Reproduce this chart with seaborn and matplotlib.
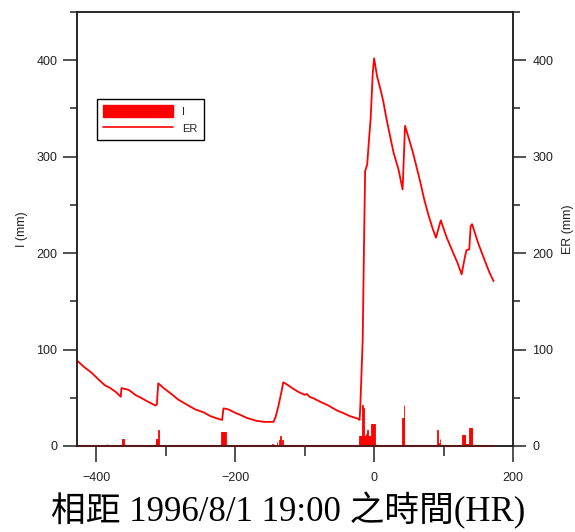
import numpy as np
import pandas as pd
import matplotlib
matplotlib.use("Agg")
import matplotlib.pyplot as plt
import seaborn as sns
from matplotlib.ticker import FixedLocator
from matplotlib.patches import Patch
from matplotlib.lines import Line2D

# ---------------- data ----------------
hours_er = [-427, -418, -407, -397, -388, -380, -372, -365, -364, -358, -353, -344, -336, -326,
            -315, -313, -311, -303, -294, -282, -270, -258, -246, -236, -228, -219, -217, -210,
            -202, -192, -183, -169, -158, -147, -145, -142, -138, -133, -131, -126, -118, -109,
            -100, -97, -93, -86, -78, -66, -54, -44, -35, -22, -21, -20, -16.5, -14.5, -13, -10,
            -8, -5, -2, 0, 4, 9, 13, 17, 21, 28, 35, 41, 44.5, 47, 56, 66, 72, 78, 84, 89, 96,
            104, 114, 120, 126, 131, 133, 137, 139, 141, 150, 160, 166, 172]
er_mm = [88, 82, 76, 69, 63, 60, 56, 51, 60, 59, 58, 53, 50, 46,
         42, 43, 65, 60, 55, 48, 43, 38, 35, 31, 29, 27, 39, 38,
         35, 32, 29, 26, 25, 25, 25, 30, 41, 58, 66, 64, 60, 56,
         53, 54, 51, 49, 46, 42, 37, 34, 31, 28, 27, 40, 110, 214, 285, 292,
         312, 340, 387, 402, 384, 370, 358, 342, 328, 304, 287, 266, 332, 326, 304, 275, 256, 240, 226, 216, 234,
         217, 200, 190, 178, 197, 203, 204, 228, 230, 210, 191, 180, 171]

hours_i = [-385, -363, -362, -361, -314, -313, -312, -311,
           -220, -219, -218, -217, -216, -215, -214,
           -146, -140, -136, -135, -132, -97, -51,
           -21, -20, -19, -18, -17, -16, -15, -14, -13, -12, -11, -10, -9, -8, -7, -6, -5,
           -4, -3, -2, -1, 0, 1,
           41, 42, 43, 91, 92, 93, 95,
           127, 128, 129, 130, 131, 132, 133, 134, 135, 136, 137, 138, 139, 140, 141]
i_mm = [2, 7, 7, 7, 7, 7, 7, 17,
        14, 14, 14, 14, 14, 14, 14,
        2, 4, 6, 10, 6, 1.5, 1.5,
        10, 10, 10, 10, 42, 40, 39, 10, 10, 10, 12, 17, 10, 10, 10, 10, 10,
        23, 23, 23, 23, 23, 23,
        29, 29, 43, 17, 3, 3, 7,
        11, 11, 11, 11, 11, 2.5, 2.5, 2.5, 2.5, 2.5, 18.5, 18.5, 18.5, 18.5, 18.5]

x_major = [-400, -200, 0, 200]
x_minor = [-300, -100, 100]
y_major = [0, 100, 200, 300, 400]
y_minor = [50, 150, 250, 350, 450]
legend_labels = ["I", "ER"]
xlabel_text = "相距 1996/8/1 19:00 之時間(HR)"
left_label = "I (mm)"
right_label = "ER (mm)"

# ---------------- style ----------------
sns.set_style("ticks")
plt.rcParams["font.family"] = ["Liberation Sans", "DejaVu Sans"]
RED = "#ff0000"
DARK = "#222222"

fig = plt.figure(figsize=(5.75, 5.32), dpi=100)
ax = fig.add_axes([77 / 575, 1 - 446 / 532, 436 / 575, 434 / 532])

df_er = pd.DataFrame({"hours": hours_er, "ER": er_mm})
df_i = pd.DataFrame({"hours": hours_i, "I": i_mm})

ax.bar(df_i["hours"], df_i["I"], width=1.0, color=RED, edgecolor=RED, linewidth=0.6, zorder=3)
ax.plot([hours_er[0], hours_er[-1]], [0, 0], color=RED, lw=1.5, zorder=3, clip_on=False,
        solid_capstyle="butt")
sns.lineplot(data=df_er, x="hours", y="ER", sort=False, estimator=None, color=RED,
             lw=1.3, ax=ax, zorder=4)

ax.set_xlim(-428, 200)
ax.set_ylim(0, 450)
ax.xaxis.set_major_locator(FixedLocator(x_major))
ax.xaxis.set_minor_locator(FixedLocator(x_minor))
ax.yaxis.set_major_locator(FixedLocator(y_major))
ax.yaxis.set_minor_locator(FixedLocator(y_minor))
ax.set_xlabel("")
ax.set_ylabel(left_label, fontsize=9, color=DARK, labelpad=6)

for s in ax.spines.values():
    s.set_visible(True)
    s.set_color(DARK)
    s.set_linewidth(1.1)

ax.tick_params(axis="x", which="major", direction="out", length=11.5, width=1.1, pad=7,
               labelsize=9, colors=DARK)
ax.tick_params(axis="x", which="minor", direction="out", length=7, width=1.1, colors=DARK)
ax.tick_params(axis="y", which="major", direction="out", length=10, width=1.1, pad=4,
               labelsize=9, colors=DARK)
ax.tick_params(axis="y", which="minor", direction="out", length=5, width=1.1, colors=DARK)

ax2 = ax.twinx()
ax2.set_ylim(0, 450)
ax2.yaxis.set_major_locator(FixedLocator(y_major))
ax2.yaxis.set_minor_locator(FixedLocator(y_minor))
ax2.tick_params(axis="y", which="major", direction="out", length=9, width=1.1, pad=5,
                labelsize=9, colors=DARK)
ax2.tick_params(axis="y", which="minor", direction="out", length=5, width=1.1, colors=DARK)
ax2.set_ylabel(right_label, fontsize=9, color=DARK, labelpad=6)
for s in ax2.spines.values():
    s.set_visible(True)
    s.set_color(DARK)
    s.set_linewidth(1.1)

handles = [Patch(facecolor=RED, edgecolor=RED), Line2D([], [], color=RED, lw=1.2)]
leg = ax.legend(handles, legend_labels, loc="upper left", bbox_to_anchor=(0.046, 0.80),
                borderaxespad=0, frameon=True, fancybox=False, edgecolor="black",
                framealpha=1, fontsize=8, handlelength=6.3, handleheight=1.25,
                borderpad=0.55, labelspacing=0.5, handletextpad=0.8)
leg.get_frame().set_linewidth(1.0)

fig.text(288 / 575, 1 - 511 / 532, xlabel_text, fontsize=25,
         family=["Liberation Serif", "Noto Sans CJK TC"], ha="center", va="center", color="black")

fig.savefig("out.png", dpi=100)
